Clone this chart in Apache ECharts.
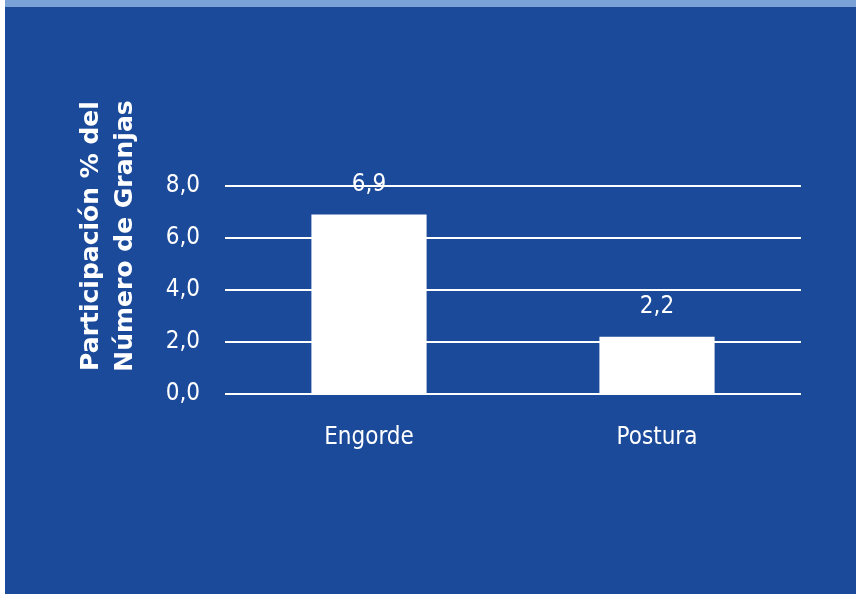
<!DOCTYPE html>
<html><head><meta charset="utf-8">
<script src="https://cdn.jsdelivr.net/npm/echarts@6/dist/echarts.min.js"></script>
<style>html,body{margin:0;padding:0;background:#fff}#c{width:856px;height:594px}</style>
</head><body><div id="c"></div>
<script>
const categories = ['Engorde', 'Postura'];
const values = [6.9, 2.2];
const yTicks = [0, 2, 4, 6, 8];
const yTitle = 'Participación % del\nNúmero de Granjas';
const fmt = v => Number(v).toFixed(1).replace('.', ',');
const narrow = "'Liberation Sans Narrow','DejaVu Sans Condensed',sans-serif";
const chart = echarts.init(document.getElementById('c'));
chart.setOption({
  backgroundColor: '#1b4a9b',
  animation: false,
  graphic: [
    {type: 'rect', shape: {x: 0, y: 0, width: 856, height: 7}, style: {fill: '#7ba2d6'}, z: 10},
    {type: 'rect', shape: {x: 0, y: 0, width: 5, height: 594}, style: {fill: '#ffffff'}, z: 11},
    {type: 'text', x: 108, y: 236, rotation: Math.PI / 2, z: 10,
     style: {text: yTitle, fill: '#fff', font: "bold 25px 'DejaVu Sans', sans-serif",
             align: 'center', verticalAlign: 'middle', lineHeight: 34}}
  ],
  grid: {left: 225, right: 55, top: 186, bottom: 200},
  xAxis: {
    type: 'category', data: categories,
    axisLine: {show: false}, axisTick: {show: false},
    axisLabel: {color: '#fff', fontSize: 24, fontFamily: narrow, margin: 32}
  },
  yAxis: {
    type: 'value', min: yTicks[0], max: yTicks[yTicks.length - 1], interval: 2,
    axisLine: {show: false}, axisTick: {show: false},
    splitLine: {lineStyle: {color: '#fff', width: 2}},
    axisLabel: {color: '#fff', fontSize: 24, fontFamily: narrow, margin: 25, formatter: fmt}
  },
  series: [{
    type: 'bar', data: values, barWidth: '40%',
    itemStyle: {color: '#fff'},
    label: {show: true, position: 'top', distance: 18, color: '#fff', fontSize: 24,
            fontFamily: narrow, formatter: p => fmt(p.value)}
  }]
});
</script></body></html>
